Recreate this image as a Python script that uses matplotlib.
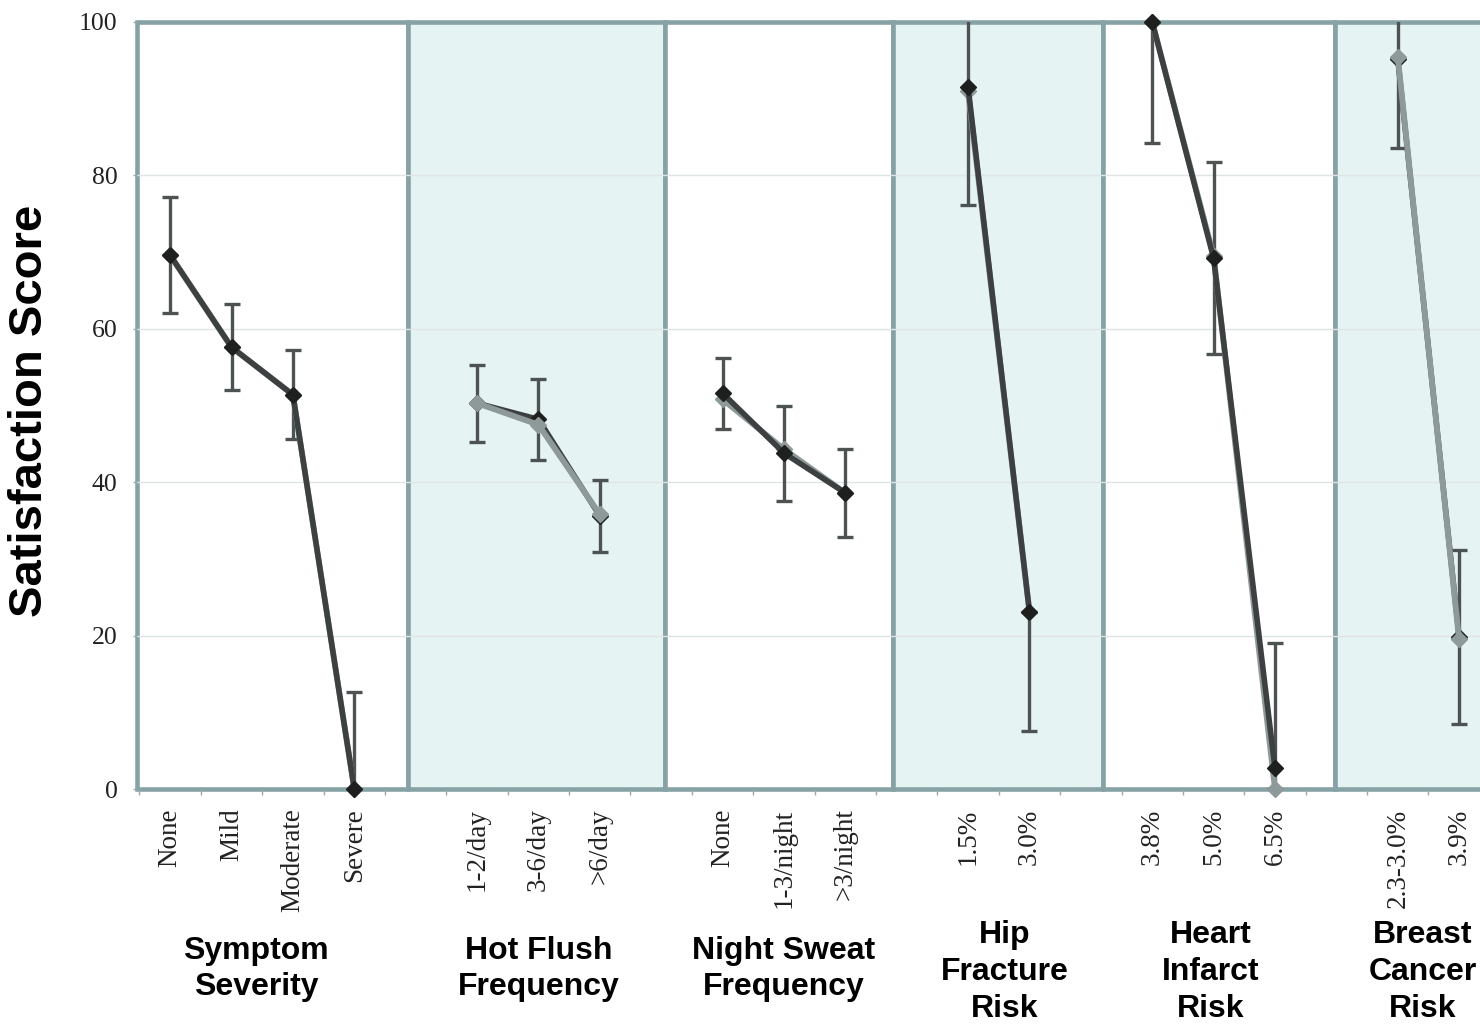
import numpy as np
import matplotlib.pyplot as plt
from matplotlib import patches

# ---- data ----
groups = ["Symptom\nSeverity", "Hot Flush\nFrequency", "Night Sweat\nFrequency",
          "Hip\nFracture\nRisk", "Heart\nInfarct\nRisk", "Breast\nCancer\nRisk"]
levels = [["None", "Mild", "Moderate", "Severe"],
          ["1-2/day", "3-6/day", ">6/day"],
          ["None", "1-3/night", ">3/night"],
          ["1.5%", "3.0%"],
          ["3.8%", "5.0%", "6.5%"],
          ["2.3-3.0%", "3.9%"]]
# dark series (with error bars)
dark = [[69.6, 57.6, 51.4, 0.0],
        [50.3, 48.2, 35.6],
        [51.6, 43.8, 38.6],
        [91.5, 23.1],
        [100.0, 69.2, 2.7],
        [95.2, 19.8]]
err_lo = [[7.6, 5.6, 5.8, 0.0],
          [5.0, 5.3, 4.7],
          [4.6, 6.2, 5.7],
          [15.4, 15.5],
          [15.8, 12.5, 2.7],
          [11.6, 11.3]]
err_hi = [[7.6, 5.6, 5.8, 12.6],
          [5.0, 5.3, 4.7],
          [4.6, 6.2, 5.7],
          [15.4, 0.0],
          [0.0, 12.5, 16.3],
          [11.6, 11.3]]
# lighter overlapping series
gray = [[69.6, 57.6, 51.4, 0.0],
        [50.3, 47.5, 35.8],
        [50.8, 44.3, 38.6],
        [91.0, 23.1],
        [100.0, 69.5, 0.0],
        [95.5, 19.5]]
gray_on_top = [False, True, False, False, False, True]
shaded = [False, True, False, True, False, True]
# panel edges on the category axis
edges = [-0.54, 3.877, 8.06, 11.78, 15.2, 18.98, 22.5]
# small nudges of the group captions (category units)
label_shift = [-0.1, 0.0, 0.0, 0.1, -0.05, -0.09]

BORDER = "#87a2a5"
FILL = "#e6f3f3"
SERIF = ["Liberation Serif", "DejaVu Serif"]
SANS = ["Liberation Sans", "DejaVu Sans"]

W, H = 1480, 1025
fig = plt.figure(figsize=(W / 100, H / 100), dpi=100)
ax = fig.add_axes([137 / W, (H - 789) / H, (W - 137) / W, (789 - 22) / H])
for s in ax.spines.values():
    s.set_visible(False)

# panels
for i in range(len(groups)):
    x0, x1 = edges[i], edges[i + 1]
    ax.add_patch(patches.Rectangle((x0, 0), x1 - x0, 100,
                                   facecolor=FILL if shaded[i] else "white",
                                   edgecolor=BORDER, lw=3.3, zorder=1, clip_on=False))

for yv in [20, 40, 60, 80]:
    ax.axhline(yv, color="#dfe5e5", lw=1.0, zorder=1.5)

# series
pos = 0
xticks, xlabels, centers = [], [], []
for i in range(len(groups)):
    n = len(levels[i])
    xs = np.arange(pos, pos + n)
    xticks += list(xs)
    xlabels += levels[i]
    centers.append(xs.mean())
    zd, zg = (3, 4) if gray_on_top[i] else (4, 3)
    ax.errorbar(xs, dark[i], yerr=[err_lo[i], err_hi[i]], fmt="none", ecolor="#4d5353",
                elinewidth=2.4, capsize=6, capthick=2.4, zorder=2.5)
    ax.plot(xs, gray[i], color="#8e9999", lw=4.2, marker="D", ms=8,
            mfc="#8e9999", mec="#8e9999", zorder=zg, clip_on=False)
    ax.plot(xs, dark[i], color="#3c4040", lw=4.0, marker="D", ms=8,
            mfc="#1e2020", mec="#1e2020", zorder=zd, clip_on=False)
    pos += n + 1

# axes ticks
ax.set_yticks([0, 20, 40, 60, 80, 100])
ax.tick_params(axis="y", length=3, width=1, color="#9aa9aa", pad=11,
               labelsize=18.5, labelcolor="#222222")
for t in ax.get_yticklabels():
    t.set_family(SERIF)

ax.set_xticks(xticks)
ax.set_xticklabels(xlabels, rotation=90, family=SERIF, fontsize=19.5,
                   color="#222222", va="top", ha="center")
ax.tick_params(axis="x", which="major", length=0, pad=14)
ax.set_xticks(np.arange(-0.5, 21.1, 1.0), minor=True)
ax.tick_params(axis="x", which="minor", length=4, width=1, color="#9aa9aa")
ax.set_xlim(-0.54, 21.34)
ax.set_ylim(0, 100)

# group labels
for i, g in enumerate(groups):
    nl = g.count("\n") + 1
    ypx = 969 if nl == 2 else 972
    xf = ax.transData.transform((centers[i] + label_shift[i], 0))[0] / W
    fig.text(xf, 1 - ypx / H, g, ha="center", va="center", fontsize=23,
             fontweight="bold", family=SANS, linespacing=1.3)

fig.text(30 / W, 1 - 411 / H, "Satisfaction Score", rotation=90, ha="center",
         va="center", fontsize=34, fontweight="bold", family=SANS)

fig.savefig("out.png", dpi=100)
